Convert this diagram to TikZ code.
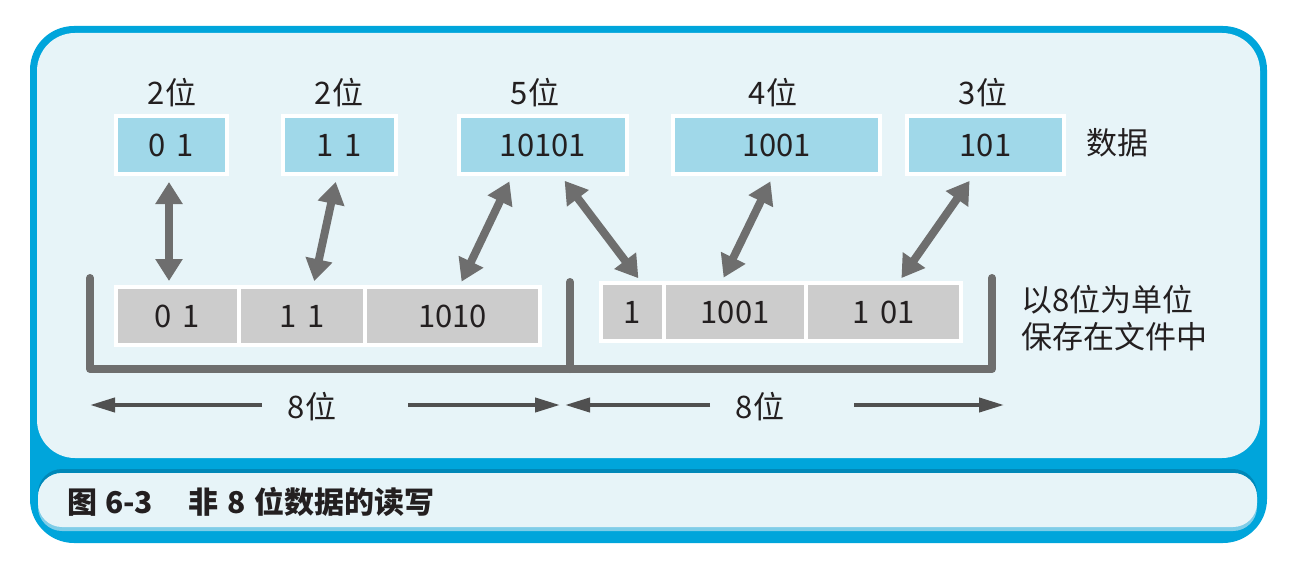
\documentclass[tikz,border=0pt]{standalone}
\usepackage{fontspec}
\setmainfont{Noto Sans CJK SC}
\usetikzlibrary{arrows.meta,positioning}
\definecolor{frameblue}{HTML}{00A5DB}
\definecolor{framedark}{HTML}{0088B8}
\definecolor{edgeblue}{HTML}{7FCDE8}
\definecolor{panelblue}{HTML}{E7F4F8}
\definecolor{datablue}{HTML}{A0D8E9}
\definecolor{cellgray}{HTML}{CCCCCC}
\definecolor{linkgray}{HTML}{6E6E6E}
\definecolor{dimgray}{HTML}{505050}
\definecolor{inkblack}{HTML}{231F20}

\begin{document}
\begin{tikzpicture}[x=1pt, y=-1pt,
  bitlabel/.style={font=\fontsize{31}{37}\selectfont, text=inkblack, inner sep=0pt},
  databox/.style={rectangle, fill=datablue, draw=white, line width=4pt,
                  minimum height=58pt, inner sep=0pt, text=inkblack,
                  font=\fontsize{31}{37}\selectfont},
  cell/.style={rectangle, fill=cellgray, draw=white, line width=4pt, outer sep=0pt,
               minimum height=58pt, inner sep=0pt, text=inkblack,
               font=\fontsize{31}{37}\selectfont},
  link/.style={line width=8pt, draw=linkgray, shorten <=6pt, shorten >=6pt,
               arrows={Triangle[width=26pt,length=22pt]-Triangle[width=26pt,length=22pt]}},
  dimarr/.style={line width=4pt, draw=dimgray, -{Triangle[width=14pt,length=25pt]}},
  bracket/.style={line width=8pt, draw=linkgray, line cap=round, line join=round}
]
  \useasboundingbox (0,0) rectangle (1300,572);

  %% Frame and panels
  \fill[frameblue, rounded corners=44pt] (30,26) rectangle (1267,543);
  \fill[panelblue, rounded corners=38pt] (37,33) rectangle (1260,458);
  \fill[framedark, rounded corners=24pt] (38,469) rectangle (1257,528);
  \fill[edgeblue, rounded corners=24pt] (38,473) rectangle (1257,531);
  \fill[panelblue, rounded corners=24pt] (38,473) rectangle (1257,527);

  %% Data row
  \node[databox, minimum width=111pt] (d1) at (171.5,145) {0\hspace{11pt}1};
  \node[databox, minimum width=113pt] (d2) at (339.5,145) {1\hspace{11pt}1};
  \node[databox, minimum width=168pt] (d3) at (543,145) {10101};
  \node[databox, minimum width=207pt] (d4) at (776.5,145) {1001};
  \node[databox, minimum width=157pt] (d5) at (985.5,145) {101};

  \node[bitlabel] (n1) at (172,93) {2位};
  \node[bitlabel] (n2) at (339,93) {2位};
  \node[bitlabel] (n3) at (535,93) {5位};
  \node[bitlabel] (n4) at (773,93) {4位};
  \node[bitlabel] (n5) at (983,93) {3位};
  \node[bitlabel] (datalbl) at (1117,143) {数据};

  %% Bytes in the file
  \node[cell, minimum width=123pt] (c1) at (177.5,316) {0\hspace{11pt}1};
  \node[cell, minimum width=126pt, right=0pt of c1] (c2) {1\hspace{11pt}1};
  \node[cell, minimum width=175pt, right=0pt of c2] (c3) {1010};
  \node[cell, minimum width=63pt] (c4) at (632.5,312) {1};
  \node[cell, minimum width=142pt, right=0pt of c4] (c5) {1001};
  \node[cell, minimum width=155pt, right=0pt of c5] (c6) {1\hspace{11pt}01};

  \node[bitlabel, anchor=west, align=left] (store) at (1021,318)
    {以8位为单位\\保存在文件中};

  \draw[link] ([xshift=-2.5pt]d1.south) -- ([xshift=-8.5pt]c1.north);
  \draw[link] ([xshift=-2.5pt]d2.south) -- ([xshift=11pt]c2.north);
  \draw[link] ([xshift=-31pt]d3.south) -- ([xshift=6.5pt]c3.north);
  \draw[link] ([xshift=18pt]d3.south) -- ([xshift=9.5pt]c4.north);
  \draw[link] ([xshift=-3.5pt]d4.south) -- ([xshift=-14pt]c5.north);
  \draw[link] ([xshift=-12.5pt]d5.south) -- ([xshift=14.5pt]c6.north);

  %% Byte brackets
  \draw[bracket] (90,278) -- (90,369) -- (992,369) -- (992,278);
  \draw[bracket] (570,282) -- (570,369);

  %% Widths
  \node[bitlabel] (w1) at (312,407) {8位};
  \node[bitlabel] (w2) at (760,407) {8位};
  \coordinate (w1a) at (262,405);
  \coordinate (w1b) at (90,405);
  \coordinate (w1c) at (408,405);
  \coordinate (w1d) at (560,405);
  \coordinate (w2a) at (710,405);
  \coordinate (w2b) at (565,405);
  \coordinate (w2c) at (854,405);
  \coordinate (w2d) at (1004,405);
  \draw[dimarr] (w1a) -- (w1b);
  \draw[dimarr] (w1c) -- (w1d);
  \draw[dimarr] (w2a) -- (w2b);
  \draw[dimarr] (w2c) -- (w2d);

  %% Caption
  \node[font=\fontsize{30}{36}\selectfont\bfseries, text=inkblack, anchor=west,
        inner sep=0pt] (caption) at (67,502)
    {图\hspace{8pt}6-3\hspace{35pt}非\hspace{9pt}8\hspace{9pt}位数据的读写};
\end{tikzpicture}
\end{document}
